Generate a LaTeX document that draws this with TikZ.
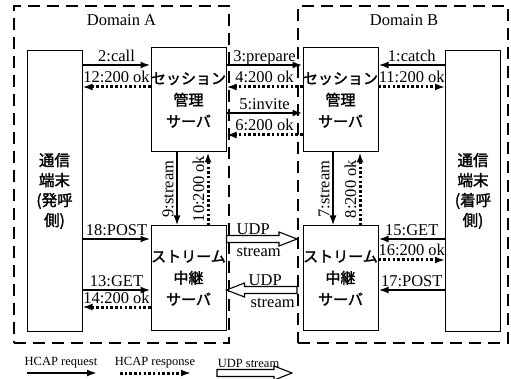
\documentclass[tikz,border=0pt]{standalone}
\usepackage{fontspec}
\setmainfont{Liberation Serif}
\newfontfamily\jpfont[FakeBold=1.8]{Noto Sans CJK JP}
\usepackage{tikz}
\usetikzlibrary{arrows.meta,positioning,calc}
\tikzset{
    domainbox/.style = {rectangle, draw=black, line width=2pt, dash pattern=on 12pt off 7pt, minimum height=337pt},
    server/.style = {rectangle, draw=black, line width=1pt, minimum width=75pt, minimum height=104pt, inner sep=0pt, align=center, font=\jpfont\fontsize{15}{21.5}\selectfont},
    terminal/.style = {rectangle, draw=black, line width=1pt, minimum width=55pt, minimum height=281pt, inner sep=0pt, align=center, font=\jpfont\fontsize{15.5}{20}\selectfont},
    request/.style = {line width=2.5pt, -{Latex[length=10pt,width=7pt]}},
    response/.style = {line width=3pt, dash pattern=on 2.5pt off 2.2pt, -{Latex[length=10pt,width=7pt]}},
    udp/.style = {draw=black, line width=1.1pt, fill=white},
    msg/.style = {above, inner sep=2.5pt, text depth=0pt, font=\fontsize{16.5}{18}\selectfont},
    vmsg/.style = {rotate=90, anchor=south, inner sep=2.5pt, text depth=0pt, font=\fontsize{16.5}{18}\selectfont},
    udpmsg/.style = {anchor=base west, inner sep=0pt, font=\fontsize{16.5}{18}\selectfont},
    legend/.style = {inner sep=0pt, font=\fontsize{12.5}{14}\selectfont}
}
\newcommand{\udparrow}[2]{%
    \draw [udp] let \p1=#1, \p2=#2, \p3=($(\p2)!18pt!(\p1)$) in
        (\x1,\y1+3.5pt) -- (\x3,\y1+3.5pt) -- (\x3,\y1+7pt) -- (\x2,\y1)
        -- (\x3,\y1-7pt) -- (\x3,\y1-3.5pt) -- (\x1,\y1-3.5pt) -- cycle;}

\begin{document}
\begin{tikzpicture}[x=1pt, y=-1pt]
    \useasboundingbox (0,0) rectangle (511,379);

    \node [domainbox, minimum width=215pt] (domA) at (121.5,174.5) {};
    \node [domainbox, minimum width=210pt] (domB) at (403,174.5) {};
    \node [msg, anchor=base, inner sep=0pt] (labA) at (121.5,26) {Domain A};
    \node [msg, anchor=base, inner sep=0pt] (labB) at (404,26) {Domain B};

    \node [terminal] (termA) at (54.5,191) {通信\\端末\\(発呼\\側)};
    \node [server] (sesA) at (188.5,100) {セッション\\管理\\サーバ};
    \node [server, below=73pt of sesA] (strA) {ストリーム\\中継\\サーバ};
    \node [server, right=76pt of sesA] (sesB) {セッション\\管理\\サーバ};
    \node [server, right=76pt of strA] (strB) {ストリーム\\中継\\サーバ};
    \node [terminal] (termB) at (473,191) {通信\\端末\\(着呼\\側)};

    \coordinate (r1) at (0,65);
    \coordinate (r2) at (0,87);
    \coordinate (r3) at (0,113);
    \coordinate (r4) at (0,135);
    \coordinate (r5) at (0,239);
    \coordinate (r6) at (0,260);
    \coordinate (r7) at (0,290);
    \coordinate (r8) at (0,307);
    \coordinate (c1) at (177,0);
    \coordinate (c2) at (208,0);
    \coordinate (c3) at (333,0);
    \coordinate (c4) at (360,0);

    \draw [request] (termA.east |- r1) -- (sesA.west |- r1) node [msg, midway] {2:call};
    \draw [response] (sesA.west |- r2) -- (termA.east |- r2) node [msg, midway] {12:200 ok};
    \draw [request] (sesA.east |- r1) -- (sesB.west |- r1) node [msg, midway] {3:prepare};
    \draw [response] (sesB.west |- r2) -- (sesA.east |- r2) node [msg, midway] {4:200 ok};
    \draw [request] (sesA.east |- r3) -- (sesB.west |- r3) node [msg, midway] {5:invite};
    \draw [response] (sesB.west |- r4) -- (sesA.east |- r4) node [msg, midway] {6:200 ok};
    \draw [request] (termB.west |- r1) -- (sesB.east |- r1) node [msg, midway] {1:catch};
    \draw [response] (sesB.east |- r2) -- (termB.west |- r2) node [msg, midway] {11:200 ok};

    \draw [request] (sesA.south -| c1) -- (strA.north -| c1) node [vmsg, midway] {9:stream};
    \draw [response] (strA.north -| c2) -- (sesA.south -| c2) node [vmsg, midway] {10:200 ok};
    \draw [request] (sesB.south -| c3) -- (strB.north -| c3) node [vmsg, midway] {7:stream};
    \draw [response] (strB.north -| c4) -- (sesB.south -| c4) node [vmsg, midway] {8:200 ok};

    \draw [request] (termA.east |- r5) -- (strA.west |- r5) node [msg, midway] {18:POST};
    \draw [request] (termA.east |- r7) -- (strA.west |- r7) node [msg, midway] {13:GET};
    \draw [response] (strA.west |- r8) -- (termA.east |- r8) node [msg, midway] {14:200 ok};
    \draw [request] (termB.west |- r5) -- (strB.east |- r5) node [msg, midway] {15:GET};
    \draw [response] (strB.east |- r6) -- (termB.west |- r6) node [msg, midway] {16:200 ok};
    \draw [request] (termB.west |- r7) -- (strB.east |- r7) node [msg, midway] {17:POST};

    \udparrow{(strA.east |- r5)}{(domB.west |- r5)}
    \udparrow{(domB.west |- r7)}{(strA.east |- r7)}
    \node [udpmsg] (udp1) at ($(strA.east |- r5)+(10,-4.5)$) {UDP};
    \node [udpmsg] (str1) at ($(strA.east |- r5)+(10,17.5)$) {stream};
    \node [udpmsg] (udp2) at ($(strA.east |- r7)+(22,-5)$) {UDP};
    \node [udpmsg] (str2) at ($(strA.east |- r7)+(24,17)$) {stream};

    \node [legend] (lreq) at (61,363) {HCAP request};
    \node [legend] (lres) at (155,363) {HCAP response};
    \node [legend] (ludp) at (248.5,363) {UDP stream};
    \coordinate (lreqs) at (27,373);
    \coordinate (lreqe) at (97,373);
    \coordinate (lress) at (120,373);
    \coordinate (lrese) at (191,373);
    \coordinate (ludps) at (217,373);
    \coordinate (ludpe) at (292,373);
    \draw [request] (lreqs) -- (lreqe);
    \draw [response] (lress) -- (lrese);
    \udparrow{(ludps)}{(ludpe)}
\end{tikzpicture}
\end{document}
